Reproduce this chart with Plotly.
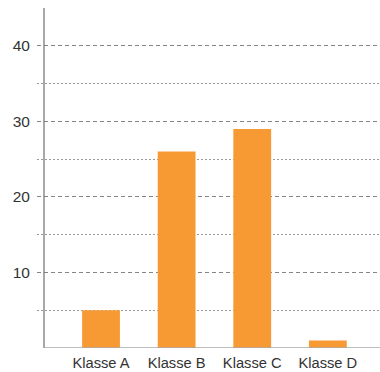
import plotly.graph_objects as go

# Number of pupils per class
classes = ["Klasse A", "Klasse B", "Klasse C", "Klasse D"]
counts = [5, 26, 29, 1]

major_ticks = [10, 20, 30, 40]
minor_ticks = [5, 15, 25, 35]

BAR_COLOR = "#F79A34"
TEXT_COLOR = "#333333"
FONT = "Liberation Sans, Arial, sans-serif"

fig = go.Figure(
    go.Bar(
        x=list(range(len(classes))),
        y=counts,
        width=0.5,
        marker=dict(color=BAR_COLOR, line=dict(width=0)),
        hoverinfo="skip",
    )
)

fig.update_layout(
    width=380,
    height=372,
    margin=dict(l=37, r=0, t=8, b=24),
    paper_bgcolor="white",
    plot_bgcolor="white",
    showlegend=False,
    font=dict(family=FONT, size=14, color=TEXT_COLOR),
    xaxis=dict(
        range=[-0.847, 3.69],
        tickmode="array",
        tickvals=list(range(len(classes))),
        ticktext=classes,
        showgrid=False,
        zeroline=False,
        showline=False,
        ticks="",
        ticklabelstandoff=4,
        tickfont=dict(size=14.7, color=TEXT_COLOR),
    ),
    yaxis=dict(
        range=[0, 45],
        tickmode="array",
        tickvals=major_ticks,
        showgrid=True,
        gridcolor="#858585",
        gridwidth=1,
        griddash="4px,3px",
        zeroline=False,
        showline=False,
        ticks="",
        ticklabelstandoff=6,
        tickfont=dict(size=15.5, color=TEXT_COLOR),
        minor=dict(
            tickmode="array",
            tickvals=minor_ticks,
            showgrid=True,
            gridcolor="#9a9a9a",
            gridwidth=1,
            griddash="2px,2px",
            ticks="",
        ),
    ),
    shapes=[
        # vertical axis line, slightly right of the plot edge so gridlines poke out
        dict(type="line", xref="paper", yref="paper", x0=7 / 343, x1=7 / 343, y0=0, y1=1,
             line=dict(color="#6e6e6e", width=1.2), layer="above"),
        # baseline
        dict(type="line", xref="paper", yref="y", x0=7 / 343, x1=1, y0=0, y1=0,
             line=dict(color="#a8a8a8", width=1.5), layer="above"),
    ],
)

fig.write_html("out.html")
